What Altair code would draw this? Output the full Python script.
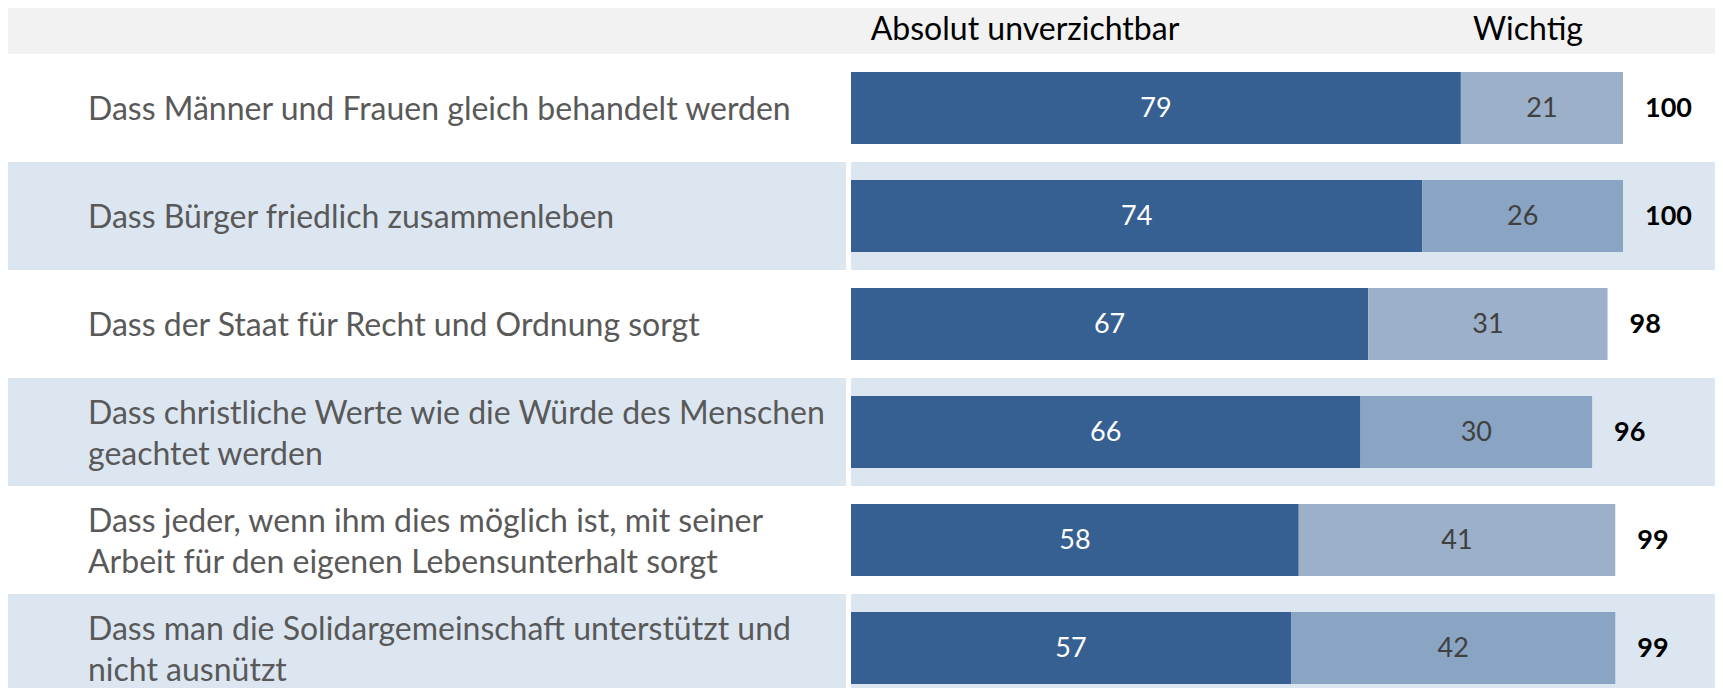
import altair as alt
import pandas as pd

# ---- data -------------------------------------------------------------
labels = [
    "Dass Männer und Frauen gleich behandelt werden",
    "Dass Bürger friedlich zusammenleben",
    "Dass der Staat für Recht und Ordnung sorgt",
    "Dass christliche Werte wie die Würde des Menschen\ngeachtet werden",
    "Dass jeder, wenn ihm dies möglich ist,  mit seiner\nArbeit für den eigenen Lebensunterhalt sorgt",
    "Dass man die Solidargemeinschaft unterstützt und\nnicht ausnützt",
]
series = ["Absolut unverzichtbar", "Wichtig"]
essential = [79, 74, 67, 66, 58, 57]
important = [21, 26, 31, 30, 41, 42]
totals = [100, 100, 98, 96, 99, 99]

# ---- layout constants ---------------------------------------------------
W, H = 1707, 680          # whole canvas (page minus 8px margins)
X0 = 843                  # pixel where value 0 sits
PX = 7.72                 # pixels per percentage point
TOP = 46                  # height of header band
ROW = 108                 # row height
BAR = 2 / 3               # bar thickness as share of row
LABEL_COL_END = 838       # right edge of label column
BAR_COL_START = 843
LINE_H = 41

FONT = "Lato"
DARK = "#366092"
BLUE_BG = "#DCE6F1"

xs = alt.Scale(domain=[-X0 / PX, (W - X0) / PX], nice=False, zero=False)
ys = alt.Scale(domain=[-TOP / ROW, (H - TOP) / ROW], nice=False, zero=False, reverse=True)

# ---- tables -----------------------------------------------------------
rows = pd.DataFrame({
    "row": list(range(len(labels))),
    "label": labels,
    "total": totals,
})
rows["row_end"] = rows["row"] + 1
rows["center"] = rows["row"] + 0.5
rows["band"] = ["white" if i % 2 == 0 else "blue" for i in rows["row"]]

recs = []
for i in range(len(labels)):
    start = 0
    for s, v in zip(series, [essential[i], important[i]]):
        key = "dark" if s == series[0] else ("light_w" if i % 2 == 0 else "light_b")
        recs.append({
            "row": i, "seg": s, "value": v, "start": start, "end": start + v,
            "mid": start + v / 2,
            "bar_top": i + (1 - BAR) / 2, "bar_bot": i + (1 + BAR) / 2,
            "center": i + 0.5, "key": key,
        })
        start += v
bars = pd.DataFrame(recs)

X = lambda f: alt.X(f, type="quantitative", scale=xs, axis=None)
Y = lambda f: alt.Y(f, type="quantitative", scale=ys, axis=None)

base_rows = alt.Chart(rows)

white_bg = base_rows.mark_rect(color="white").encode(
    x=alt.value(0), x2=alt.value(W), y=Y("row"), y2="row_end")

blue_lab = base_rows.transform_filter("datum.band == 'blue'").mark_rect(color=BLUE_BG).encode(
    x=alt.value(0), x2=alt.value(LABEL_COL_END), y=Y("row"), y2="row_end")

blue_bar = base_rows.transform_filter("datum.band == 'blue'").mark_rect(color=BLUE_BG).encode(
    x=alt.value(BAR_COL_START), x2=alt.value(W), y=Y("row"), y2="row_end")

bar_marks = alt.Chart(bars).mark_rect().encode(
    x=X("start"), x2="end", y=Y("bar_top"), y2="bar_bot",
    color=alt.Color("key:N", scale=alt.Scale(domain=["dark", "light_w", "light_b"],
                                            range=[DARK, "#9DB0C9", "#8AA5C4"]), legend=None),
)

val_dark = alt.Chart(bars).transform_filter(alt.datum.seg == series[0]).mark_text(
    font=FONT, fontSize=27, color="white", align="center", baseline="middle", dy=1).encode(
    x=X("mid"), y=Y("center"), text="value:Q")

val_light = alt.Chart(bars).transform_filter(alt.datum.seg == series[1]).mark_text(
    font=FONT, fontSize=27, color="#404040", align="center", baseline="middle", dy=1).encode(
    x=X("mid"), y=Y("center"), text="value:Q")

tot = base_rows.mark_text(font=FONT, fontSize=27, fontWeight="bold", color="black",
                          align="left", baseline="middle", dx=22, dy=1).encode(
    x=X("total"), y=Y("center"), text="total:Q")

cat1 = base_rows.transform_filter("indexof(datum.label, '\\n') < 0").mark_text(
    font=FONT, fontSize=32, color="#595959", align="left", baseline="middle", dy=2).encode(
    x=alt.value(80), y=Y("center"), text="label:N")

cat2 = base_rows.transform_filter("indexof(datum.label, '\\n') >= 0").mark_text(
    font=FONT, fontSize=32, color="#595959", align="left", baseline="middle",
    lineBreak="\n", lineHeight=LINE_H, dy=-LINE_H / 2 + 2).encode(
    x=alt.value(80), y=Y("center"), text="label:N")

hdr1 = alt.Chart(pd.DataFrame({"t": [series[0]]})).mark_text(
    font=FONT, fontSize=32, color="black", align="center", baseline="alphabetic").encode(
    x=alt.value(1017), y=alt.value(32), text="t:N")
hdr2 = alt.Chart(pd.DataFrame({"t": [series[1]]})).mark_text(
    font=FONT, fontSize=32, color="black", align="center", baseline="alphabetic").encode(
    x=alt.value(1520), y=alt.value(32), text="t:N")

chart = alt.layer(white_bg, blue_lab, blue_bar, bar_marks, val_dark, val_light, tot,
                  cat1, cat2, hdr1, hdr2).properties(
    width=W, height=H, autosize=alt.AutoSizeParams(type="none"), padding=0,
    background="#F2F2F2",
).configure_view(stroke=None)

chart.save("out.html", embed_options={"renderer": "svg", "actions": False})
